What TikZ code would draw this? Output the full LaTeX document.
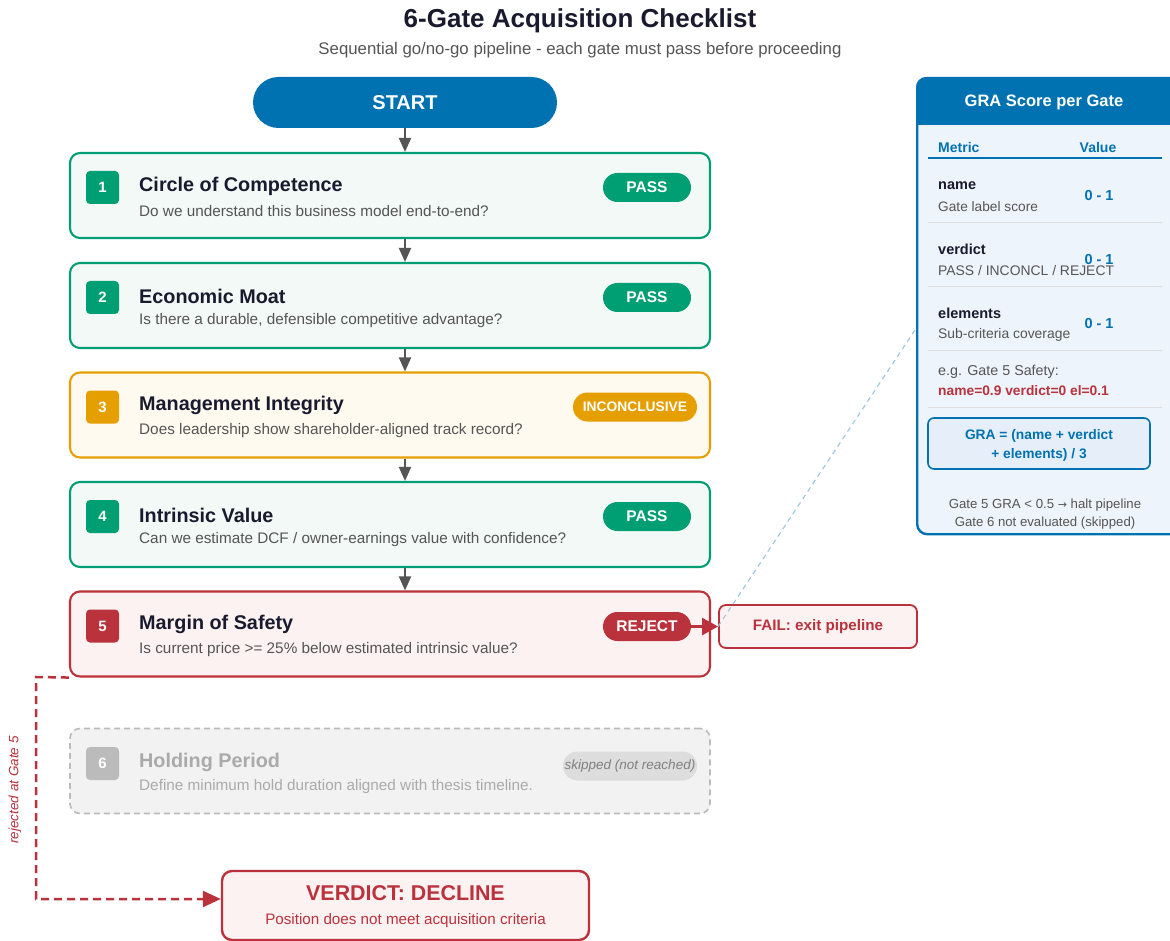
\documentclass[tikz,border=0pt]{standalone}
\usepackage{fontspec}
\setmainfont{Liberation Sans}
\newfontfamily\symfont{DejaVu Sans}
\usetikzlibrary{arrows.meta,calc}
\newcommand\fsz[1]{\fontsize{#1}{#1}\selectfont}
\definecolor{cblue}{HTML}{0072B2}
\definecolor{cgreen}{HTML}{009E73}
\definecolor{camber}{HTML}{E69F00}
\definecolor{cred}{RGB}{186,50,60}
\definecolor{cdark}{HTML}{1A1A2E}
\definecolor{cgray}{HTML}{555555}
\definecolor{carrow}{HTML}{555555}
\definecolor{fgreen}{HTML}{F2F9F6}
\definecolor{famber}{HTML}{FFFAF0}
\definecolor{fred}{HTML}{FDF2F2}
\definecolor{fgray}{HTML}{F2F2F2}
\definecolor{cskip}{HTML}{BBBBBB}
\definecolor{tskip}{HTML}{AAAAAA}
\definecolor{fpanel}{HTML}{EEF4FB}
\definecolor{fformula}{HTML}{E6EFF9}
\definecolor{cline}{HTML}{DDDDDD}
\tikzset{
  gatebox/.style={rectangle, rounded corners=10pt, line width=2.1pt, minimum width=640pt, minimum height=85pt, inner sep=0pt},
  numbox/.style={rectangle, rounded corners=4pt, minimum size=33pt, inner sep=0pt, text=white, font=\fsz{15}\bfseries},
  gtitle/.style={inner sep=0pt, anchor=west, text=cdark, font=\fsz{19.8}\bfseries},
  gsub/.style={inner sep=0pt, anchor=west, text=cgray, font=\fsz{15.3}},
  badge/.style={rectangle, rounded corners=14.5pt, minimum height=29pt, inner sep=0pt, text=white, font=\fsz{15.5}\bfseries},
  arr/.style={draw=carrow, line width=2pt, -{Triangle[width=12pt,length=14pt]}},
  ptxt/.style={inner sep=0pt, anchor=west},
  pval/.style={inner sep=0pt, text=cblue, font=\fsz{14.5}\bfseries},
}
\newcommand\mkgate[7]{%
  \node[gatebox, draw=#3, fill=#4] (#1) at (390,#2+42.5) {};
  \node[numbox, fill=#3] (#1n) at (102.5,#2+34.5) {#5};
  \node[gtitle] (#1t) at (139,#2+33) {#6};
  \node[gsub] (#1s) at (139,#2+58) {#7};
}
\begin{document}
\begin{tikzpicture}[x=1pt,y=-1pt]
\useasboundingbox (0,0) rectangle (1170,941);
\clip (0,0) rectangle (1170,941);
\fill[white] (0,0) rectangle (1170,941);

% title
\node[inner sep=0pt, text=cdark, font=\fsz{26}\bfseries] (title) at (580,20.5) {6-Gate Acquisition Checklist};
\node[inner sep=0pt, text=cgray, font=\fsz{16.8}] (subtitle) at (580,50) {Sequential go/no-go pipeline - each gate must pass before proceeding};

% start
\node[rectangle, rounded corners=25.5pt, fill=cblue, minimum width=304pt, minimum height=51pt, inner sep=0pt, text=white, font=\fsz{20}\bfseries] (start) at (405,102.5) {START};

% gates
\mkgate{g1}{153}{cgreen}{fgreen}{1}{Circle of Competence}{Do we understand this business model end-to-end?}
\mkgate{g2}{263}{cgreen}{fgreen}{2}{Economic Moat}{Is there a durable, defensible competitive advantage?}
\mkgate{g3}{372.5}{camber}{famber}{3}{Management Integrity}{Does leadership show shareholder-aligned track record?}
\mkgate{g4}{482}{cgreen}{fgreen}{4}{Intrinsic Value}{Can we estimate DCF / owner-earnings value with confidence?}
\mkgate{g5}{591.5}{cred}{fred}{5}{Margin of Safety}{Is current price >= 25\% below estimated intrinsic value?}

% gate 6 (skipped)
\node[gatebox, draw=cskip, fill=fgray, dash pattern=on 6pt off 4pt, line width=1.6pt] (g6) at (390,771) {};
\node[numbox, fill=cskip] (g6n) at (102.5,763.5) {6};
\node[gtitle, text=tskip] (g6t) at (139,762) {Holding Period};
\node[gsub, text=tskip] (g6s) at (139,787) {Define minimum hold duration aligned with thesis timeline.};

% badges
\node[badge, fill=cgreen, minimum width=88pt] (g1b) at (647,187.5) {PASS};
\node[badge, fill=cgreen, minimum width=88pt] (g2b) at (647,297.5) {PASS};
\node[badge, fill=camber, minimum width=124pt, font=\fsz{13.8}\bfseries] (g3b) at (635,407) {INCONCLUSIVE};
\node[badge, fill=cgreen, minimum width=88pt] (g4b) at (647,516.5) {PASS};
\node[badge, fill=cred, minimum width=88pt] (g5b) at (647,626.5) {REJECT};
\node[badge, fill=cline, minimum width=134pt, text=gray, font=\fsz{13.5}\itshape] (g6b) at (630,766) {skipped (not reached)};

% flow arrows
\draw[arr] (start.south) -- (g1.north -| start);
\draw[arr] (g1.south -| start) -- (g2.north -| start);
\draw[arr] (g2.south -| start) -- (g3.north -| start);
\draw[arr] (g3.south -| start) -- (g4.north -| start);
\draw[arr] (g4.south -| start) -- (g5.north -| start);

% fail box
\node[rectangle, rounded corners=7pt, draw=cred, line width=1.8pt, fill=fred, minimum width=198pt, minimum height=43pt, inner sep=0pt, text=cred, font=\fsz{15.2}\bfseries] (fail) at (818,626.5) {FAIL: exit pipeline};
\draw[draw=cred, line width=2.4pt, -{Triangle[width=17pt,length=16pt]}] (g5b.east) -- (fail.west);

% verdict
\node[rectangle, rounded corners=10pt, draw=cred, line width=2.4pt, fill=fred, minimum width=367pt, minimum height=69pt, inner sep=0pt] (verdict) at (405.5,905.5) {};
\node[inner sep=0pt, text=cred, font=\fsz{21.4}\bfseries] (vt) at (405.5,893) {VERDICT: DECLINE};
\node[inner sep=0pt, text=cred, font=\fsz{15.2}] (vs) at (405.5,921) {Position does not meet acquisition criteria};

% rejected path
\coordinate (rj) at ($(verdict.west)+(0,-6.5)$);
\draw[draw=cred, line width=2.5pt, dash pattern=on 8pt off 5pt, -{Triangle[width=16pt,length=18pt]}] (g5.south west) -- (36,677) |- (rj);
\node[inner sep=0pt, rotate=90, text=cred, font=\fsz{13.5}\itshape] (rjl) at (15,790) {rejected at Gate 5};

% GRA panel
\fill[fpanel, rounded corners=10pt] (916,77) rectangle (1190,533);
\begin{scope}
  \clip[rounded corners=10pt] (916,77) rectangle (1190,533);
  \fill[cblue] (916,77) rectangle (1190,125);
\end{scope}
\node[rectangle, rounded corners=10pt, draw=cblue, line width=2.4pt, minimum width=274pt, minimum height=456pt, anchor=north west, inner sep=0pt] (panel) at (916,77) {};
\node[inner sep=0pt, text=white, font=\fsz{16.5}\bfseries] (ptitle) at (1044,102) {GRA Score per Gate};

\node[ptxt, text=cblue, font=\fsz{14}\bfseries] (hm) at (938,147) {Metric};
\node[inner sep=0pt, text=cblue, font=\fsz{14}\bfseries] (hv) at (1098,147) {Value};
\draw[cblue, line width=1.4pt] (928,158) -- (1162,158);

\node[ptxt, text=cdark, font=\fsz{14.5}\bfseries] (r1a) at (938,186) {name};
\node[ptxt, text=cgray, font=\fsz{13.7}] (r1b) at (938,207) {Gate label score};
\node[pval] (r1v) at (1099,196) {0 - 1};
\draw[cline, line width=1pt] (928,223) -- (1162,223);

\node[ptxt, text=cdark, font=\fsz{14.5}\bfseries] (r2a) at (938,249) {verdict};
\node[ptxt, text=cgray, font=\fsz{13.9}] (r2b) at (938,271) {PASS / INCONCL / REJECT};
\node[pval] (r2v) at (1099,260) {0 - 1};
\draw[cline, line width=1pt] (928,287) -- (1162,287);

\node[ptxt, text=cdark, font=\fsz{14.5}\bfseries] (r3a) at (938,313) {elements};
\node[ptxt, text=cgray, font=\fsz{13.9}] (r3b) at (938,335) {Sub-criteria coverage};
\node[pval] (r3v) at (1099,324) {0 - 1};
\draw[cline, line width=1pt] (928,350) -- (1162,350);

\node[ptxt, text=cgray, font=\fsz{14.3}] (ex1) at (938,372) {e.g. Gate 5 Safety:};
\node[ptxt, text=cred, font=\fsz{13.8}\bfseries] (ex2) at (938,391) {name=0.9 verdict=0 el=0.1};
\draw[cline, line width=1pt] (928,407) -- (1162,407);

\node[rectangle, rounded corners=6pt, draw=cblue, line width=1.6pt, fill=fformula, minimum width=222pt, minimum height=51pt, inner sep=0pt] (formula) at (1039,443.5) {};
\node[inner sep=0pt, text=cblue, font=\fsz{13.8}\bfseries] (f1) at (1039,436) {GRA = (name + verdict};
\node[inner sep=0pt, text=cblue, font=\fsz{13.8}\bfseries] (f2) at (1039,455) {+ elements) / 3};

\node[inner sep=0pt, text=cgray, font=\fsz{13.2}] (n1) at (1045,505) {Gate 5 GRA < 0.5 {\symfont\fsz{11}→} halt pipeline};
\node[inner sep=0pt, text=cgray, font=\fsz{13.2}] (n2) at (1045,523) {Gate 6 not evaluated (skipped)};

% link from panel to fail box
\coordinate (pl) at (915,330);
\draw[draw=cblue!40, line width=1.1pt, dash pattern=on 5pt off 4pt] (pl) -- (fail.west);
\end{tikzpicture}
\end{document}
